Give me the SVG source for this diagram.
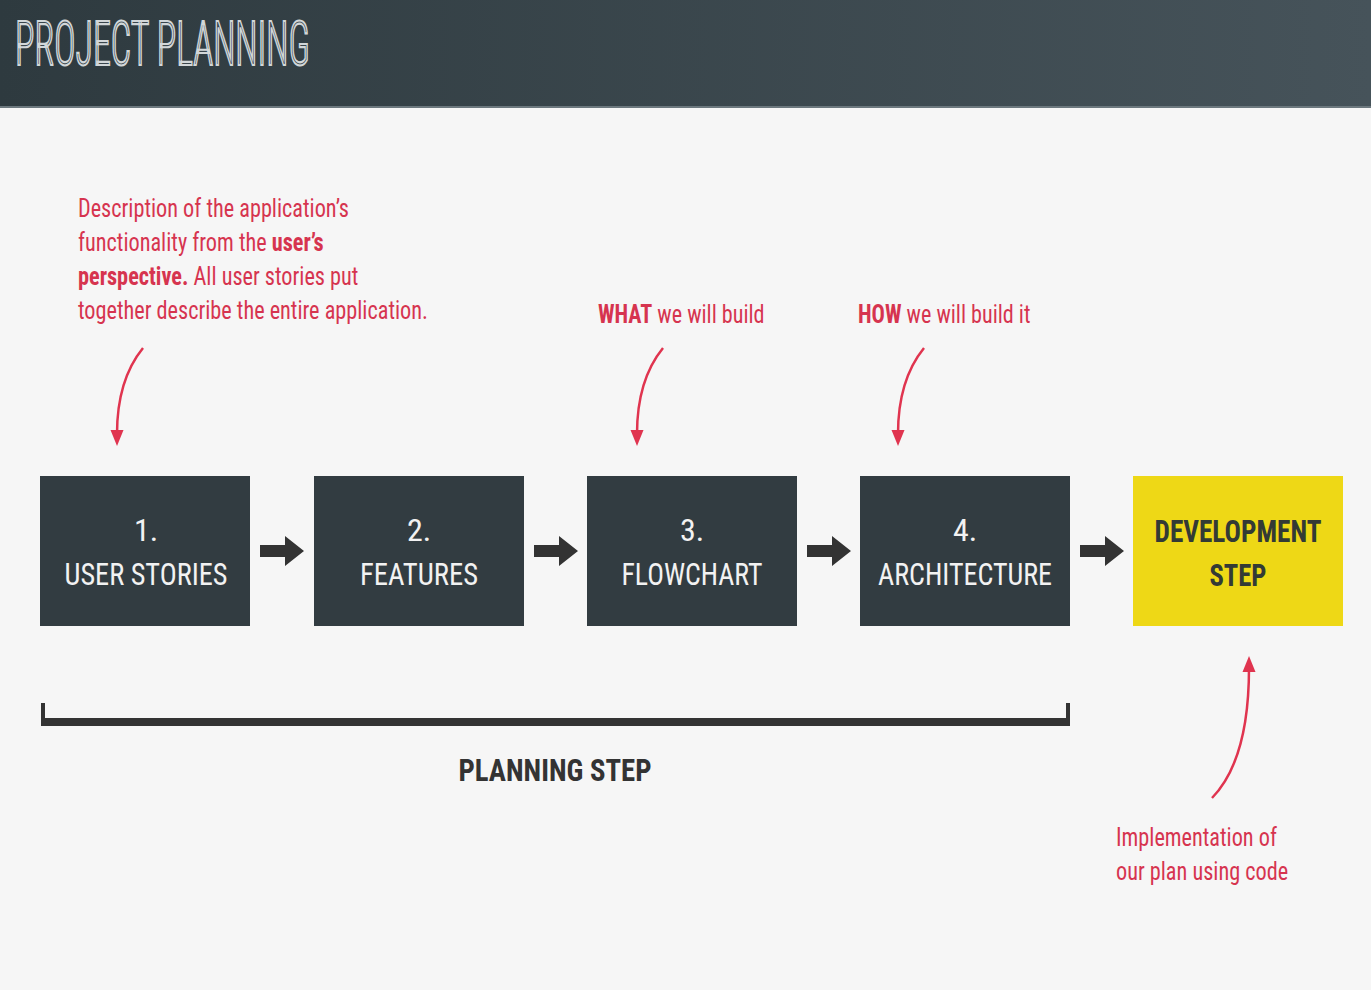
<svg xmlns="http://www.w3.org/2000/svg" width="1371" height="990" viewBox="0 0 1371 990">
<defs>
<linearGradient id="hdr" x1="0" y1="0" x2="1" y2="0">
<stop offset="0" stop-color="#2e3a3f"/>
<stop offset="1" stop-color="#46535a"/>
</linearGradient>
<path id="flowArrow" d="M0,-6 L25,-6 L25,-15 L44,0 L25,15 L25,6 L0,6 Z"/>
<path id="headDown" d="M-6.5,-15 L6.5,-15 L0,1 Z"/>
</defs>
<style>
.box{fill:#323c41}
.dev{fill:#eed816}
.lbl{font-family:"Roboto Condensed",Roboto,sans-serif;font-size:32px;fill:#f2f2f2;text-anchor:middle}
.devlbl{font-family:"Roboto Condensed",Roboto,sans-serif;font-size:32px;font-weight:bold;fill:#333a35;text-anchor:middle}
.note{font-family:"Roboto Condensed",Roboto,sans-serif;font-size:25px;fill:#d6344f}
.b{font-weight:bold}
.red{fill:none;stroke:#e0344f;stroke-width:2.5}
.redhead{fill:#e0344f}
.flow{fill:#333333}
</style>
<rect width="1371" height="990" fill="#f6f6f6"/>
<g id="header">
<rect x="0" y="0" width="1371" height="108" fill="url(#hdr)"/>
<rect x="0" y="106" width="1371" height="2" fill="#6c787e"/>
<text x="15" y="65" font-family="'Roboto Condensed',Roboto,sans-serif" font-size="62" font-weight="300" fill="#3a464c" stroke="#d2d7d9" stroke-width="2.2" textLength="295" lengthAdjust="spacingAndGlyphs">PROJECT PLANNING</text>
</g>
<g id="note-user-stories">
<text class="note" transform="translate(78,217) scale(0.89,1)">Description of the application’s</text>
<text class="note" transform="translate(78,251) scale(0.89,1)">functionality from the <tspan class="b">user’s</tspan></text>
<text class="note" transform="translate(78,285) scale(0.89,1)"><tspan class="b">perspective.</tspan> All user stories put</text>
<text class="note" transform="translate(78,319) scale(0.89,1)">together describe the entire application.</text>
</g>
<g id="note-what">
<text class="note" transform="translate(598,323) scale(0.885,1)"><tspan class="b">WHAT</tspan> we will build</text>
</g>
<g id="note-how">
<text class="note" transform="translate(858,323) scale(0.885,1)"><tspan class="b">HOW</tspan> we will build it</text>
</g>
<g id="node-1">
<rect class="box" x="40" y="476" width="210" height="150"/>
<text class="lbl" x="146" y="541">1.</text>
<text class="lbl" x="146" y="585" textLength="163" lengthAdjust="spacingAndGlyphs">USER STORIES</text>
</g>
<g id="node-2">
<rect class="box" x="314" y="476" width="210" height="150"/>
<text class="lbl" x="419" y="541">2.</text>
<text class="lbl" x="419" y="585" textLength="118" lengthAdjust="spacingAndGlyphs">FEATURES</text>
</g>
<g id="node-3">
<rect class="box" x="587" y="476" width="210" height="150"/>
<text class="lbl" x="692" y="541">3.</text>
<text class="lbl" x="692" y="585" textLength="141" lengthAdjust="spacingAndGlyphs">FLOWCHART</text>
</g>
<g id="node-4">
<rect class="box" x="860" y="476" width="210" height="150"/>
<text class="lbl" x="965" y="541">4.</text>
<text class="lbl" x="965" y="585" textLength="174" lengthAdjust="spacingAndGlyphs">ARCHITECTURE</text>
</g>
<g id="node-dev">
<rect class="dev" x="1133" y="476" width="210" height="150"/>
<text class="devlbl" x="1238" y="542" textLength="167" lengthAdjust="spacingAndGlyphs">DEVELOPMENT</text>
<text class="devlbl" x="1238" y="586" textLength="57" lengthAdjust="spacingAndGlyphs">STEP</text>
</g>
<g id="planning-step">
<path d="M43,703 L43,722 L1068,722 L1068,703" fill="none" stroke="#333333" stroke-width="4"/>
<rect x="41" y="718" width="1029" height="8" fill="#333333"/>
<text x="555" y="781" font-family="'Roboto Condensed',Roboto,sans-serif" font-size="32" font-weight="bold" fill="#333333" text-anchor="middle" textLength="193" lengthAdjust="spacingAndGlyphs">PLANNING STEP</text>
</g>
<g id="note-dev">
<text class="note" transform="translate(1116,846) scale(0.89,1)">Implementation of</text>
<text class="note" transform="translate(1116,880) scale(0.89,1)">our plan using code</text>
</g>
<g id="connectors">
<use href="#flowArrow" class="flow" x="260" y="551"/>
<use href="#flowArrow" class="flow" x="534" y="551"/>
<use href="#flowArrow" class="flow" x="807" y="551"/>
<use href="#flowArrow" class="flow" x="1080" y="551"/>
<path class="red" d="M143,348 Q117,380 117,434"/>
<use href="#headDown" class="redhead" x="117" y="445"/>
<path class="red" d="M663,348 Q637,380 637,434"/>
<use href="#headDown" class="redhead" x="637" y="445"/>
<path class="red" d="M924,348 Q898,380 898,434"/>
<use href="#headDown" class="redhead" x="898" y="445"/>
<path class="red" d="M1212,798 Q1249,760 1249,668"/>
<path class="redhead" d="M1242.5,672 L1255.5,672 L1249,656 Z"/>
</g>
</svg>
